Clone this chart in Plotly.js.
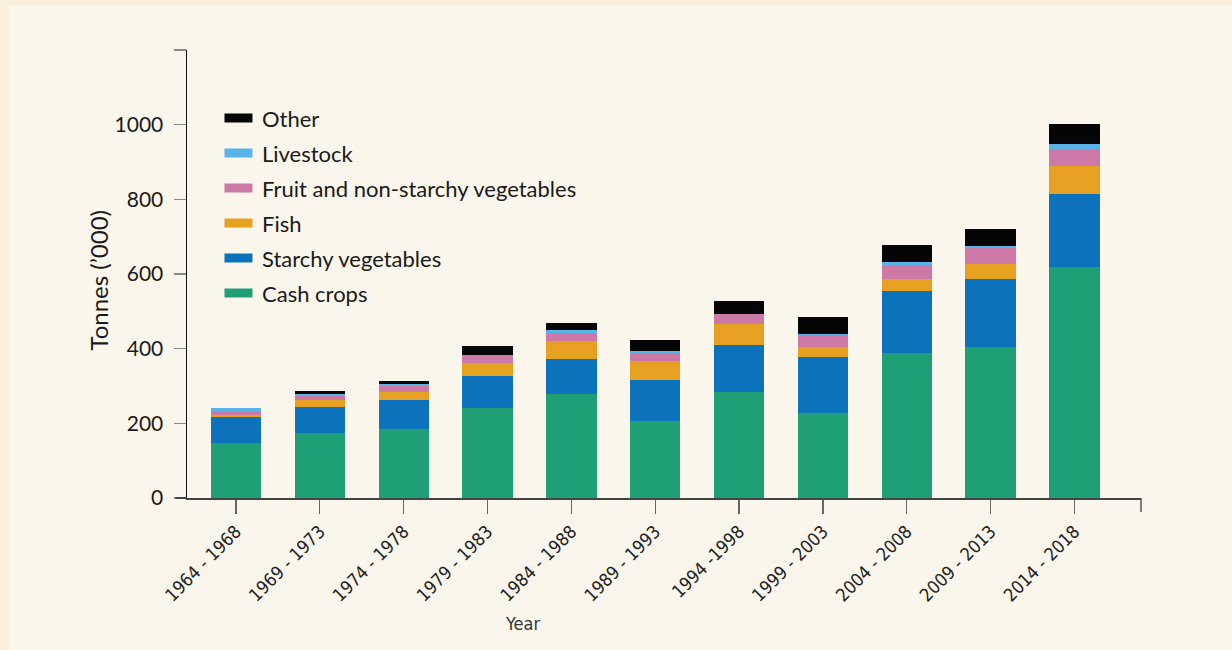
<!DOCTYPE html>
<html>
<head>
<meta charset="utf-8">
<script src="https://cdn.plot.ly/plotly-3.0.1.min.js"></script>
<style>
html,body{margin:0;padding:0;background:#f8eedb;width:1232px;height:650px;overflow:hidden}
#chart{position:absolute;left:9px;top:5px;width:1223px;height:645px}
</style>
</head>
<body>
<div id="chart"></div>
<script>
// ---- data (tonnes, '000) ----
const categories = ['1964 - 1968','1969 - 1973','1974 - 1978','1979 - 1983','1984 - 1988','1989 - 1993','1994 -1998','1999 - 2003','2004 - 2008','2009 - 2013','2014 - 2018'];
const cashCrops  = [148,174,185,241,279,206,284,228,389,405,619];
const starchyVeg = [70,70,78,86,94,110,126,150,166,182,196];
const fish       = [5,19,21,35,48,51,56,27,32,40,75];
const fruitVeg   = [11,11,16,21,21,21,27,32,38,43,46];
const livestock  = [8,5,5,0,8,5,0,3,8,5,11];
const other      = [0,8,8,24,19,29,35,46,46,46,56];

const seriesNames  = ['Cash crops','Starchy vegetables','Fish','Fruit and non-starchy vegetables','Livestock','Other'];
const seriesValues = [cashCrops, starchyVeg, fish, fruitVeg, livestock, other];
const seriesColors = ['#1e9f76','#0b72bb','#e6a123','#cc79a7','#5ab3e6','#050505'];

const yTickVals = [0,200,400,600,800,1000,1200];
const yTickText = ['0','200','400','600','800','1000',''];

const mainFont = 'Lato, "Open Sans", "Noto Sans", sans-serif';
const narrowFont = '"Liberation Sans Narrow", "DejaVu Sans Condensed", sans-serif';

const traces = seriesNames.map((n,i)=>({
  type:'bar', name:n, x:categories, y:seriesValues[i],
  marker:{color:seriesColors[i], line:{width:0}},
  width:0.6, showlegend:false, hoverinfo:'x+y+name'
}));

// custom legend (top item = last series)
const shapes = [];
const annotations = [];
const W = 954.5, H = 448; // plot area px
for (let k=0;k<seriesNames.length;k++){
  const i = seriesNames.length-1-k;
  const cy = 118 + 35*k; // page y
  const yp = (498 - cy)/H;
  shapes.push({type:'rect', xref:'paper', yref:'paper',
    x0:(224-186.5)/W, x1:(252-186.5)/W, y0:yp-4.5/H, y1:yp+4.5/H,
    fillcolor:seriesColors[i], line:{width:0}});
  annotations.push({xref:'paper', yref:'paper', x:(260-186.5)/W, y:yp, xanchor:'left', yanchor:'middle',
    text:seriesNames[i], showarrow:false, font:{family:mainFont, size:22, color:'#1a1a1a'}});
}
// x axis line extension to the left and end tick
shapes.push({type:'line', xref:'paper', yref:'paper', x0:(175-186.5)/W, x1:0, y0:0, y1:0, line:{color:'#444', width:2}});
shapes.push({type:'line', xref:'paper', yref:'paper', x0:1, x1:1, y0:0, y1:-14/H, line:{color:'#555', width:1.5}});

annotations.push({xref:'paper', yref:'paper', x:(522-186.5)/W, y:(498-623)/H, xanchor:'center', yanchor:'middle',
  text:'Year', showarrow:false, font:{family:narrowFont, size:18, color:'#333'}});
annotations.push({xref:'paper', yref:'paper', x:(97-186.5)/W, y:(498-280)/H, xanchor:'center', yanchor:'middle',
  text:'Tonnes (’000)', textangle:-90, showarrow:false, font:{family:mainFont, size:24, color:'#1a1a1a'}});

const layout = {
  width:1223, height:645,
  margin:{l:177.5, r:91, t:45, b:152},
  paper_bgcolor:'#faf6ec', plot_bgcolor:'#faf6ec',
  barmode:'stack',
  showlegend:false,
  xaxis:{type:'category', range:[-0.584,10.793], showline:true, linecolor:'#444', linewidth:2,
    ticks:'outside', ticklen:14, tickcolor:'#666', tickwidth:1.2, tickangle:-45,
    tickfont:{family:narrowFont, size:18, color:'#222'}, showgrid:false, zeroline:false, fixedrange:true},
  yaxis:{range:[0,1200], tickmode:'array', tickvals:yTickVals, ticktext:yTickText,
    showline:true, linecolor:'#111', linewidth:1.5, ticks:'outside', ticklen:12, tickcolor:'#888', tickwidth:1.5,
    ticklabelstandoff:6, tickfont:{family:mainFont, size:21, color:'#1a1a1a'}, showgrid:false, zeroline:false, fixedrange:true},
  shapes:shapes, annotations:annotations,
  bargap:0.4
};
Plotly.newPlot('chart', traces, layout, {displayModeBar:false, staticPlot:true});
</script>
</body>
</html>
